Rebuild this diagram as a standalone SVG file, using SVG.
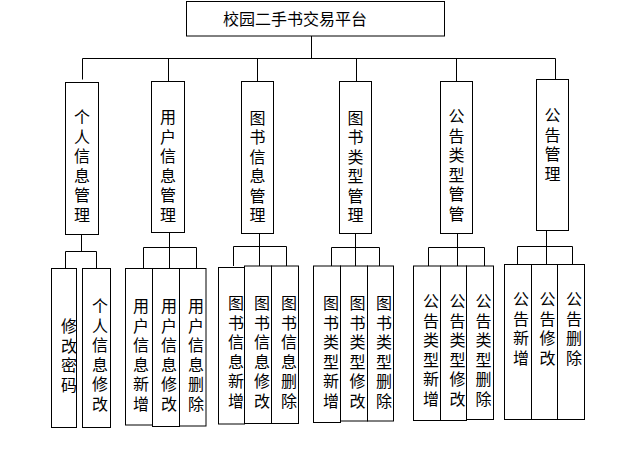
<svg xmlns="http://www.w3.org/2000/svg" width="618" height="471" viewBox="0 0 618 471">
<style>
.b{fill:#fff;stroke:#000;stroke-width:1}
.l{fill:none;stroke:#000;stroke-width:1}
.t{font-family:"Noto Sans CJK SC","Noto Sans",sans-serif;font-size:16px;fill:#000;text-anchor:middle}
.tt{font-family:"Noto Sans CJK SC","Noto Sans",sans-serif;font-size:16px;fill:#000}
</style>
<rect width="618" height="471" fill="#fff"/>
<g id="connectors" class="l">
<path d="M311.5 36V58.5M82.5 58.5H555.5M82.5 58.5V79.5M168.5 58.5V81.5M257.5 58.5V81.5M356.5 58.5V81.5M456.5 58.5V81.5M555.5 58.5V79.5"/>
<path d="M81.5 234.5V251.5M65.5 251.5H96.5M65.5 251.5V268.5M96.5 251.5V268.5"/>
<path d="M169.5 232.5V247.5M143.5 247.5H196.5M143.5 247.5V268.5M169.5 247.5V268.5M196.5 247.5V268.5"/>
<path d="M259.5 233.5V246.5M233.5 246.5H286.5M233.5 246.5V266M259.5 246.5V266M286.5 246.5V266"/>
<path d="M355.5 233.5V247.5M331.5 247.5H379.5M331.5 247.5V266M355.5 247.5V266M379.5 247.5V266"/>
<path d="M457.5 233.5V247.5M428.5 247.5H484.5M428.5 247.5V266M457.5 247.5V266M484.5 247.5V266"/>
<path d="M546.5 230.5V246.5M517.5 246.5H572.5M517.5 246.5V264.5M546.5 246.5V264.5M572.5 246.5V264.5"/>
</g>
<g id="root"><rect class="b" x="186.5" y="1.5" width="258" height="34.5"/><text class="tt" x="223" y="24.5">校园二手书交易平台</text></g>

<g id="n1"><rect class="b" x="65.5" y="82.5" width="33" height="152"/><text class="t" x="82" y="123"><tspan x="82">个</tspan><tspan x="82" dy="19.5">人</tspan><tspan x="82" dy="19.5">信</tspan><tspan x="82" dy="19.5">息</tspan><tspan x="82" dy="19.5">管</tspan><tspan x="82" dy="19.5">理</tspan></text></g>
<g id="n2"><rect class="b" x="151.5" y="81.5" width="33" height="151"/><text class="t" x="168" y="123"><tspan x="168">用</tspan><tspan x="168" dy="19.5">户</tspan><tspan x="168" dy="19.5">信</tspan><tspan x="168" dy="19.5">息</tspan><tspan x="168" dy="19.5">管</tspan><tspan x="168" dy="19.5">理</tspan></text></g>
<g id="n3"><rect class="b" x="241.5" y="81.5" width="32" height="152"/><text class="t" x="257.5" y="123.5"><tspan x="257.5">图</tspan><tspan x="257.5" dy="19.5">书</tspan><tspan x="257.5" dy="19.5">信</tspan><tspan x="257.5" dy="19.5">息</tspan><tspan x="257.5" dy="19.5">管</tspan><tspan x="257.5" dy="19.5">理</tspan></text></g>
<g id="n4"><rect class="b" x="339.5" y="81.5" width="32" height="152"/><text class="t" x="355.5" y="123.5"><tspan x="355.5">图</tspan><tspan x="355.5" dy="19.5">书</tspan><tspan x="355.5" dy="19.5">类</tspan><tspan x="355.5" dy="19.5">型</tspan><tspan x="355.5" dy="19.5">管</tspan><tspan x="355.5" dy="19.5">理</tspan></text></g>
<g id="n5"><rect class="b" x="440.5" y="81.5" width="32" height="152"/><text class="t" x="456.5" y="122"><tspan x="456.5">公</tspan><tspan x="456.5" dy="19.5">告</tspan><tspan x="456.5" dy="19.5">类</tspan><tspan x="456.5" dy="19.5">型</tspan><tspan x="456.5" dy="19.5">管</tspan><tspan x="456.5" dy="19.5">管</tspan></text></g>
<g id="n6"><rect class="b" x="536.5" y="79.5" width="32" height="151"/><text class="t" x="552.5" y="121"><tspan x="552.5">公</tspan><tspan x="552.5" dy="19.5">告</tspan><tspan x="552.5" dy="19.5">管</tspan><tspan x="552.5" dy="19.5">理</tspan></text></g>

<g id="n1a"><rect class="b" x="51.5" y="268.5" width="25" height="159"/><text class="t" x="69" y="332"><tspan x="69">修</tspan><tspan x="69" dy="19.5">改</tspan><tspan x="69" dy="19.5">密</tspan><tspan x="69" dy="19.5">码</tspan></text></g>
<g id="n1b"><rect class="b" x="82.5" y="268.5" width="28" height="159"/><text class="t" x="100" y="312"><tspan x="100">个</tspan><tspan x="100" dy="19.5">人</tspan><tspan x="100" dy="19.5">信</tspan><tspan x="100" dy="19.5">息</tspan><tspan x="100" dy="19.5">修</tspan><tspan x="100" dy="19.5">改</tspan></text></g>

<g id="n2a"><rect class="b" x="125.5" y="268.5" width="27" height="156.5"/><text class="t" x="141" y="312"><tspan x="141">用</tspan><tspan x="141" dy="19.5">户</tspan><tspan x="141" dy="19.5">信</tspan><tspan x="141" dy="19.5">息</tspan><tspan x="141" dy="19.5">新</tspan><tspan x="141" dy="19.5">增</tspan></text></g>
<g id="n2b"><rect class="b" x="152.5" y="268.5" width="27" height="158"/><text class="t" x="169" y="312"><tspan x="169">用</tspan><tspan x="169" dy="19.5">户</tspan><tspan x="169" dy="19.5">信</tspan><tspan x="169" dy="19.5">息</tspan><tspan x="169" dy="19.5">修</tspan><tspan x="169" dy="19.5">改</tspan></text></g>
<g id="n2c"><rect class="b" x="179.5" y="268.5" width="26.5" height="157.5"/><text class="t" x="196" y="312"><tspan x="196">用</tspan><tspan x="196" dy="19.5">户</tspan><tspan x="196" dy="19.5">信</tspan><tspan x="196" dy="19.5">息</tspan><tspan x="196" dy="19.5">删</tspan><tspan x="196" dy="19.5">除</tspan></text></g>

<g id="n3a"><rect class="b" x="218.5" y="267.5" width="26" height="156.5"/><text class="t" x="236" y="309"><tspan x="236">图</tspan><tspan x="236" dy="19.5">书</tspan><tspan x="236" dy="19.5">信</tspan><tspan x="236" dy="19.5">息</tspan><tspan x="236" dy="19.5">新</tspan><tspan x="236" dy="19.5">增</tspan></text></g>
<g id="n3b"><rect class="b" x="244.5" y="266" width="27" height="157.5"/><text class="t" x="262" y="309"><tspan x="262">图</tspan><tspan x="262" dy="19.5">书</tspan><tspan x="262" dy="19.5">信</tspan><tspan x="262" dy="19.5">息</tspan><tspan x="262" dy="19.5">修</tspan><tspan x="262" dy="19.5">改</tspan></text></g>
<g id="n3c"><rect class="b" x="271.5" y="266" width="27" height="157.5"/><text class="t" x="289" y="309"><tspan x="289">图</tspan><tspan x="289" dy="19.5">书</tspan><tspan x="289" dy="19.5">信</tspan><tspan x="289" dy="19.5">息</tspan><tspan x="289" dy="19.5">删</tspan><tspan x="289" dy="19.5">除</tspan></text></g>

<g id="n4a"><rect class="b" x="313.5" y="266" width="27" height="156.5"/><text class="t" x="331" y="309"><tspan x="331">图</tspan><tspan x="331" dy="19.5">书</tspan><tspan x="331" dy="19.5">类</tspan><tspan x="331" dy="19.5">型</tspan><tspan x="331" dy="19.5">新</tspan><tspan x="331" dy="19.5">增</tspan></text></g>
<g id="n4b"><rect class="b" x="340.5" y="266" width="27" height="155"/><text class="t" x="357.5" y="309"><tspan x="357.5">图</tspan><tspan x="357.5" dy="19.5">书</tspan><tspan x="357.5" dy="19.5">类</tspan><tspan x="357.5" dy="19.5">型</tspan><tspan x="357.5" dy="19.5">修</tspan><tspan x="357.5" dy="19.5">改</tspan></text></g>
<g id="n4c"><rect class="b" x="367.5" y="266" width="26" height="155"/><text class="t" x="384" y="309"><tspan x="384">图</tspan><tspan x="384" dy="19.5">书</tspan><tspan x="384" dy="19.5">类</tspan><tspan x="384" dy="19.5">型</tspan><tspan x="384" dy="19.5">删</tspan><tspan x="384" dy="19.5">除</tspan></text></g>

<g id="n5a"><rect class="b" x="413.5" y="266" width="27" height="154.5"/><text class="t" x="431" y="307"><tspan x="431">公</tspan><tspan x="431" dy="19.5">告</tspan><tspan x="431" dy="19.5">类</tspan><tspan x="431" dy="19.5">型</tspan><tspan x="431" dy="19.5">新</tspan><tspan x="431" dy="19.5">增</tspan></text></g>
<g id="n5b"><rect class="b" x="440.5" y="266" width="26" height="154.5"/><text class="t" x="457.5" y="307"><tspan x="457.5">公</tspan><tspan x="457.5" dy="19.5">告</tspan><tspan x="457.5" dy="19.5">类</tspan><tspan x="457.5" dy="19.5">型</tspan><tspan x="457.5" dy="19.5">修</tspan><tspan x="457.5" dy="19.5">改</tspan></text></g>
<g id="n5c"><rect class="b" x="466.5" y="266" width="27" height="153.5"/><text class="t" x="483.5" y="307"><tspan x="483.5">公</tspan><tspan x="483.5" dy="19.5">告</tspan><tspan x="483.5" dy="19.5">类</tspan><tspan x="483.5" dy="19.5">型</tspan><tspan x="483.5" dy="19.5">删</tspan><tspan x="483.5" dy="19.5">除</tspan></text></g>

<g id="n6a"><rect class="b" x="504.5" y="264.5" width="27" height="155"/><text class="t" x="521" y="305"><tspan x="521">公</tspan><tspan x="521" dy="19.5">告</tspan><tspan x="521" dy="19.5">新</tspan><tspan x="521" dy="19.5">增</tspan></text></g>
<g id="n6b"><rect class="b" x="531.5" y="264.5" width="26" height="155"/><text class="t" x="547.5" y="305"><tspan x="547.5">公</tspan><tspan x="547.5" dy="19.5">告</tspan><tspan x="547.5" dy="19.5">修</tspan><tspan x="547.5" dy="19.5">改</tspan></text></g>
<g id="n6c"><rect class="b" x="557.5" y="264.5" width="27" height="155"/><text class="t" x="574" y="305"><tspan x="574">公</tspan><tspan x="574" dy="19.5">告</tspan><tspan x="574" dy="19.5">删</tspan><tspan x="574" dy="19.5">除</tspan></text></g>
</svg>
